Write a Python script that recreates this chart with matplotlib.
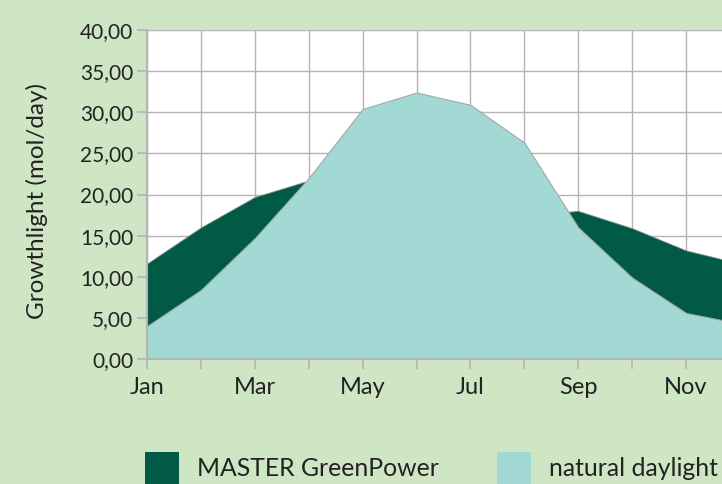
import matplotlib.pyplot as plt
from matplotlib.patches import Rectangle
from matplotlib.ticker import FuncFormatter
import numpy as np

plt.rcParams['font.family'] = ['Lato', 'DejaVu Sans']

# data
months = ['Jan', 'Feb', 'Mar', 'Apr', 'May', 'Jun', 'Jul', 'Aug', 'Sep', 'Oct', 'Nov', 'Dec']
greenpower = [11.6, 16.0, 19.7, 21.7, 21.0, 20.0, 19.0, 17.5, 18.0, 15.9, 13.2, 11.6]
daylight = [4.0, 8.4, 14.7, 22.0, 30.4, 32.4, 30.9, 26.3, 16.0, 9.9, 5.6, 4.3]
legend_labels = ['MASTER GreenPower', 'natural daylight']

bg = '#cfe6c4'
dark = '#005a46'
light = '#a3d9d5'
gridc = '#b4b4b8'
txt = '#222222'

W, H = 722, 484
fig = plt.figure(figsize=(W / 100, H / 100), dpi=100, facecolor=bg)
ax = fig.add_axes([147/W, 1-359/H, (740-147)/W, 329/H])
ax.set_facecolor('white')

x = np.arange(len(months))
ax.fill_between(x, 0, greenpower, color=dark, edgecolor='#7a8a84', linewidth=0.6, zorder=2)
ax.fill_between(x, 0, daylight, color=light, edgecolor='#a0a8a8', linewidth=0.8, zorder=3)

ax.set_xlim(0, 11)
ax.set_ylim(0, 40)
ax.set_xticks(x)
ax.set_xticklabels([m if i % 2 == 0 else '' for i, m in enumerate(months)])
ax.set_yticks(np.arange(0, 41, 5))
ax.yaxis.set_major_formatter(FuncFormatter(lambda v, p: f'{v:.2f}'.replace('.', ',')))

ax.grid(True, color=gridc, linewidth=1.0, zorder=1)
ax.set_axisbelow(True)
for s in ['top', 'right']:
    ax.spines[s].set_visible(False)
for s in ['left', 'bottom']:
    ax.spines[s].set_color(gridc)
    ax.spines[s].set_linewidth(1.5)
    ax.spines[s].set_zorder(5)
ax.tick_params(axis='both', colors=gridc, labelcolor=txt, length=7, width=1.2)
ax.tick_params(axis='x', labelsize=17, pad=6)
ax.tick_params(axis='y', labelsize=15, pad=3)

ax.set_ylabel('Growthlight (mol/day)', fontsize=17.5, color=txt)
ax.yaxis.set_label_coords((48 - 147) / 593, 0.48)

# legend drawn as figure patches + text
for (x0, label), col in zip([(145, legend_labels[0]), (497, legend_labels[1])], [dark, light]):
    fig.patches.append(Rectangle((x0 / W, 0), 34 / W, (H - 452) / H,
                                 transform=fig.transFigure, facecolor=col, edgecolor='none'))
    fig.text((x0 + 52) / W, 1 - 469 / H, label, fontsize=17.8, color=txt,
             ha='left', va='center')

fig.savefig('out.png', dpi=100, facecolor=bg)
